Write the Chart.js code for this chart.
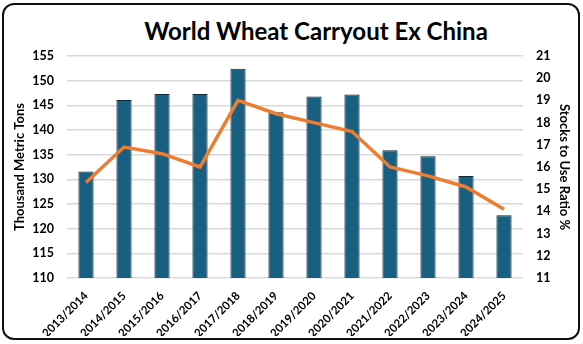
<!DOCTYPE html>
<html>
<head>
<meta charset="utf-8">
<script src="https://cdn.jsdelivr.net/npm/chart.js@4"></script>
<style>
  body { margin: 0; background: #fff; }
  #wrap { position: relative; width: 583px; height: 344px; }
  #frame { position: absolute; left: 2px; top: 3px; width: 574px; height: 333px;
           border: 2px solid #111; border-radius: 12px; }
  #title { position: absolute; left: 0; top: 16px; width: 632px; text-align: center;
           font: bold 24px Lato, sans-serif; color: #000; }
  canvas { position: absolute; left: 0; top: 0; }
</style>
</head>
<body>
<div id="wrap">
  <div id="frame"></div>
  <div id="title">World Wheat Carryout Ex China</div>
  <canvas id="chart" width="583" height="344"></canvas>
</div>
<script>
var years = ['2013/2014', '2014/2015', '2015/2016', '2016/2017', '2017/2018', '2018/2019',
             '2019/2020', '2020/2021', '2021/2022', '2022/2023', '2023/2024', '2024/2025'];
var carryout = [131.6, 146.1, 147.3, 147.3, 152.4, 143.6, 146.8, 147.2, 135.9, 134.7, 130.7, 122.7];
var stocksToUse = [15.3, 16.9, 16.6, 16.0, 19.0, 18.4, 18.0, 17.6, 16.0, 15.6, 15.1, 14.1];

var tickFont = { family: 'Lato, sans-serif', size: 12.5, weight: 'bold' };
var titleFont = { family: 'Lato, sans-serif', size: 13, weight: 'bold' };

new Chart(document.getElementById('chart'), {
  data: {
    labels: years,
    datasets: [
      {
        type: 'line',
        label: 'Stocks to Use Ratio %',
        data: stocksToUse,
        yAxisID: 'y2',
        borderColor: '#ed7d31',
        borderWidth: 3.5,
        pointRadius: 0,
        tension: 0,
        order: 0
      },
      {
        type: 'bar',
        label: 'Thousand Metric Tons',
        data: carryout,
        yAxisID: 'y',
        backgroundColor: '#185f82',
        borderColor: '#0c2a3b',
        borderWidth: 1,
        barPercentage: 0.4,
        categoryPercentage: 1.0,
        order: 1
      }
    ]
  },
  options: {
    responsive: false,
    animation: false,
    layout: { padding: { top: 56, left: 9, right: 8, bottom: 8 } },
    plugins: {
      legend: { display: false },
      tooltip: { enabled: false }
    },
    scales: {
      x: {
        grid: { display: false },
        border: { display: false },
        ticks: {
          color: '#000',
          font: { family: 'Lato, sans-serif', size: 11.5, weight: 'bold' },
          minRotation: 45,
          maxRotation: 45,
          padding: 3
        },
        afterFit: function (scale) {
          // keep rotated labels from pushing the plot area around
          scale.paddingLeft = 0;
          scale.paddingRight = 0;
          scale.height = 58;
        }
      },
      y: {
        position: 'left',
        min: 110,
        max: 155,
        ticks: { stepSize: 5, color: '#000', font: tickFont, padding: 13 },
        grid: { color: '#d9d9d9', lineWidth: 1.5, drawTicks: false },
        border: { display: false },
        title: {
          display: true,
          text: 'Thousand Metric Tons',
          color: '#000',
          font: titleFont,
          padding: 3
        },
        afterFit: function (scale) { scale.width = 58; }
      },
      y2: {
        position: 'right',
        min: 11,
        max: 21,
        ticks: { stepSize: 1, color: '#000', font: tickFont, padding: 13 },
        grid: { display: false, drawTicks: false },
        border: { display: false },
        title: {
          display: true,
          text: 'Stocks to Use Ratio %',
          color: '#000',
          font: titleFont,
          padding: 3
        },
        afterFit: function (scale) { scale.width = 52; }
      }
    }
  }
});
</script>
</body>
</html>
